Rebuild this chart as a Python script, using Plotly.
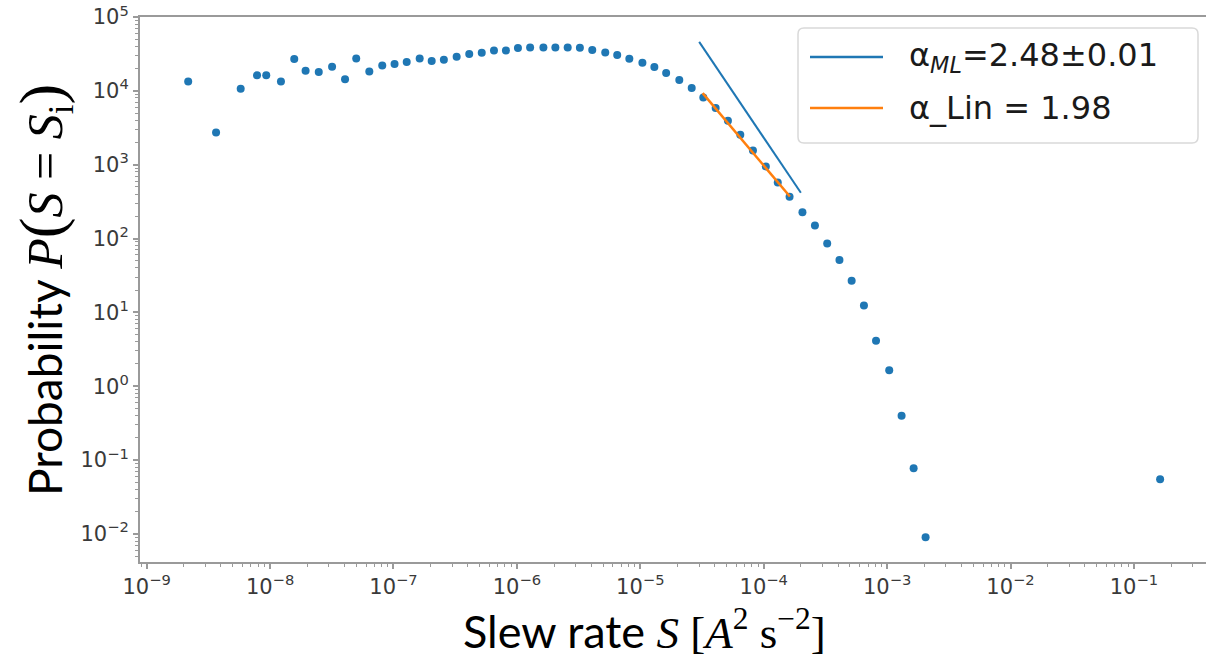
import numpy as np
import plotly.graph_objects as go

# Slew-rate histogram (bin centre in A^2 s^-2, probability density)
slew = [2.17e-9, 3.65e-9, 5.78e-9, 7.84e-9, 9.31e-9, 1.225e-8, 1.57e-8, 1.94e-8, 2.48e-8, 3.18e-8,
        4.05e-8, 4.99e-8, 6.37e-8, 8.11e-8, 1.02e-7, 1.28e-7, 1.63e-7, 2.04e-7, 2.56e-7, 3.25e-7,
        4.11e-7, 5.19e-7, 6.52e-7, 8.15e-7, 1.02e-6, 1.28e-6, 1.64e-6, 2.05e-6, 2.58e-6, 3.24e-6,
        4.08e-6, 5.20e-6, 6.50e-6, 8.15e-6, 1.04e-5, 1.30e-5, 1.62e-5, 2.07e-5, 2.61e-5, 3.24e-5,
        4.08e-5, 5.13e-5, 6.46e-5, 8.18e-5, 1.04e-4, 1.30e-4, 1.62e-4, 2.06e-4, 2.60e-4, 3.27e-4,
        4.11e-4, 5.16e-4, 6.49e-4, 8.13e-4, 1.04e-3, 1.31e-3, 1.64e-3, 2.05e-3, 0.163]
prob = [1.34e4, 2.73e3, 1.07e4, 1.62e4, 1.62e4, 1.34e4, 2.70e4, 1.87e4, 1.80e4, 2.12e4,
        1.44e4, 2.75e4, 1.83e4, 2.21e4, 2.31e4, 2.46e4, 2.74e4, 2.53e4, 2.64e4, 2.90e4,
        3.15e4, 3.28e4, 3.53e4, 3.53e4, 3.80e4, 3.87e4, 3.87e4, 3.87e4, 3.87e4, 3.84e4,
        3.57e4, 3.31e4, 3.06e4, 2.72e4, 2.40e4, 2.10e4, 1.74e4, 1.40e4, 1.09e4, 8.14e3,
        5.85e3, 3.94e3, 2.54e3, 1.56e3, 946, 574, 367, 226, 150, 85.5,
        51.2, 26.7, 12.4, 4.11, 1.64, 0.398, 0.0774, 0.0090, 0.055]

# Power-law fits: exponent, fitted S range, P at the start of the range
alpha_ml = 2.48
alpha_ml_err = 0.01
ml_range = [3.0e-5, 2.0e-4]
ml_p0 = 4.6e4

alpha_lin = 1.98
lin_range = [3.2e-5, 1.63e-4]
lin_p0 = 9.3e3

x_decades = list(range(-9, 0))
y_decades = list(range(-2, 6))

BLUE = "#1f77b4"
ORANGE = "#ff7f0e"
SPINE = "#9a9a9a"
TICKTXT = "#3a3a3a"

W, H = 1206, 659
ML, MR, MT, MB = 140, 0, 17, 97
PW, PH = W - ML - MR, H - MT - MB


def xp(px):
    return (px - ML) / PW


def yp(py):
    return (H - MB - py) / PH


def power_law(rng, p0, alpha):
    s = np.array(rng)
    return s, p0 * (s / rng[0]) ** (-alpha)


def sup_label(e):
    return "10<sup>" + ("\u2212" if e < 0 else "") + str(abs(e)) + "</sup>"


def minor_vals(decades):
    lo, hi = decades[0] - 1, decades[-1] + 1
    return [m * 10.0 ** k for k in range(lo, hi + 1) for m in range(2, 10)]


fig = go.Figure()

fig.add_trace(go.Scatter(
    x=slew, y=prob, mode="markers",
    marker=dict(color=BLUE, size=8, line=dict(width=0)),
    showlegend=False,
))

sx, sy = power_law(ml_range, ml_p0, alpha_ml)
fig.add_trace(go.Scatter(x=sx, y=sy, mode="lines",
                         line=dict(color=BLUE, width=2), showlegend=False))

sx, sy = power_law(lin_range, lin_p0, alpha_lin)
fig.add_trace(go.Scatter(x=sx, y=sy, mode="lines",
                         line=dict(color=ORANGE, width=2.5), showlegend=False))

axis_common = dict(
    showgrid=False, zeroline=False,
    showline=True, linecolor=SPINE, linewidth=2,
    ticks="outside", ticklen=5, tickwidth=1.5, tickcolor=SPINE,
    tickfont=dict(family="DejaVu Sans", size=21, color=TICKTXT),
)

fig.update_xaxes(
    type="log", range=[-9.054, -0.416], mirror=True,
    tickmode="array", tickvals=[10.0 ** e for e in x_decades],
    ticktext=[sup_label(e) for e in x_decades],
    minor=dict(tickmode="array", tickvals=minor_vals(x_decades), ticks="outside",
               ticklen=3, tickwidth=1, tickcolor=SPINE, showgrid=False),
    **axis_common,
)
fig.update_yaxes(
    type="log", range=[-2.381, 5.0], mirror=False,
    tickmode="array", tickvals=[10.0 ** e for e in y_decades],
    ticktext=[sup_label(e) for e in y_decades],
    minor=dict(tickmode="array", tickvals=minor_vals(y_decades), ticks="outside",
               ticklen=3, tickwidth=1, tickcolor=SPINE, showgrid=False),
    **axis_common,
)

SERIF = "Liberation Serif"
SANS_T = "Lato"


def serif(txt, size=None):
    style = "font-family:" + SERIF
    if size:
        style += ";font-size:%dpx" % size
    return "<span style='" + style + "'>" + txt + "</span>"


# Axis titles
fig.add_annotation(
    xref="paper", yref="paper", x=xp(644), y=yp(629), xanchor="center", yanchor="middle",
    showarrow=False, font=dict(family=SANS_T, size=45, color="black"),
    text=("Slew rate " + serif("<i>S</i> [<i>A</i><sup>2</sup> s<sup>\u22122</sup>]")),
)
fig.add_annotation(
    xref="paper", yref="paper", x=xp(44), y=yp(290), xanchor="center", yanchor="middle",
    textangle=-90, showarrow=False, font=dict(family=SANS_T, size=46, color="black"),
    text=("Probability " + serif("<i>P</i>", 50) + serif("(", 62)
          + serif("<i>S</i> = <i>S</i><sub>i</sub>", 50) + serif(")", 62)),
)

# Legend box with rounded corners
bx0, bx1, by0, by1, r = 798, 1198, 28, 143, 6
rx, ry = r / PW, r / PH
X0, X1, Y0, Y1 = xp(bx0), xp(bx1), yp(by1), yp(by0)
path = (f"M {X0+rx},{Y0} L {X1-rx},{Y0} Q {X1},{Y0} {X1},{Y0+ry} "
        f"L {X1},{Y1-ry} Q {X1},{Y1} {X1-rx},{Y1} L {X0+rx},{Y1} "
        f"Q {X0},{Y1} {X0},{Y1-ry} L {X0},{Y0+ry} Q {X0},{Y0} {X0+rx},{Y0} Z")
fig.add_shape(type="path", path=path, xref="paper", yref="paper",
              line=dict(color="#d9d9d9", width=1.5), fillcolor="rgba(255,255,255,0.85)")

legend_rows = [
    (BLUE, 57, "\u03b1<sub><i>ML</i></sub>=%.2f\u00b1%.2f" % (alpha_ml, alpha_ml_err)),
    (ORANGE, 108, "\u03b1_Lin = %.2f" % alpha_lin),
]
for color, yy, label in legend_rows:
    fig.add_shape(type="line", xref="paper", yref="paper",
                  x0=xp(810), x1=xp(883), y0=yp(yy), y1=yp(yy),
                  line=dict(color=color, width=2.5))
    fig.add_annotation(xref="paper", yref="paper", x=xp(907), y=yp(yy),
                       xanchor="left", yanchor="middle", showarrow=False,
                       text=label, font=dict(family="DejaVu Sans", size=32, color="#1a1a1a"))

fig.update_layout(
    width=W, height=H,
    margin=dict(l=ML, r=MR, t=MT, b=MB),
    paper_bgcolor="white", plot_bgcolor="white",
    showlegend=False,
)

fig.write_html("out.html")
